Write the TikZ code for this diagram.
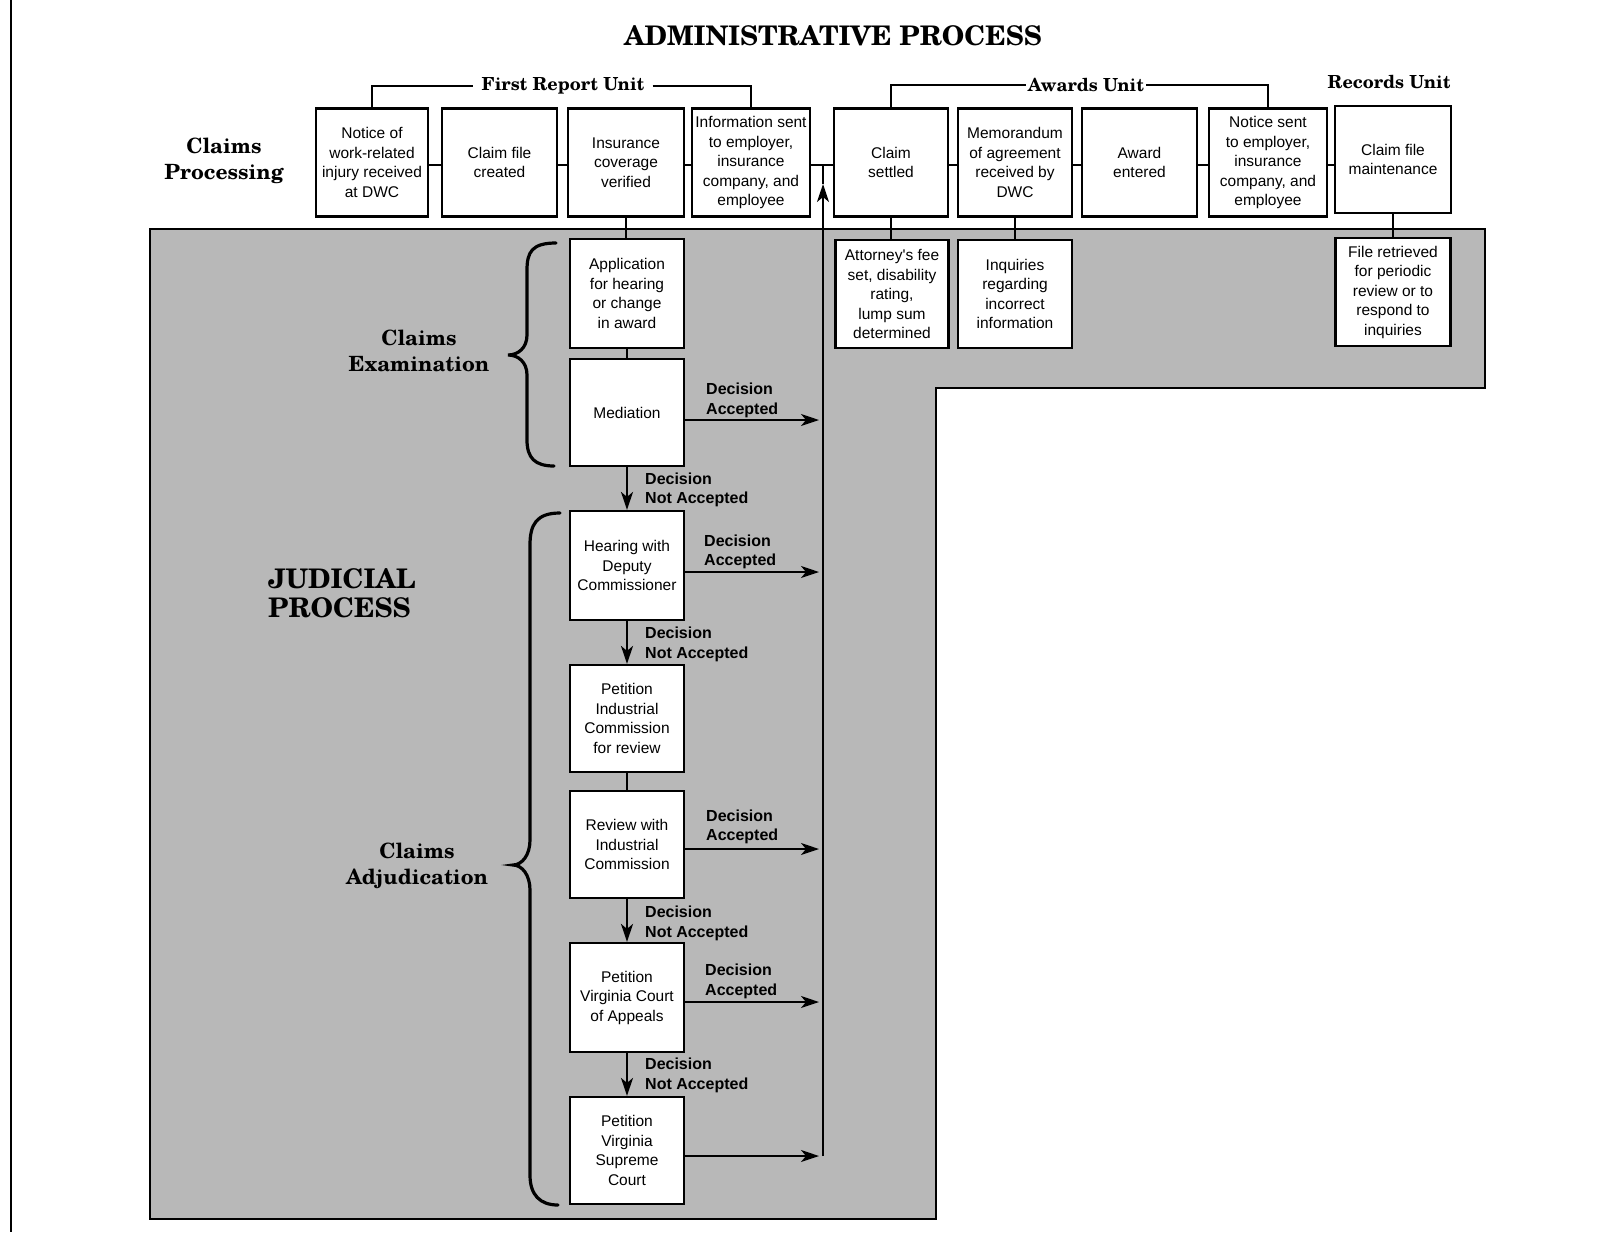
\documentclass[tikz,border=0pt]{standalone}
\usepackage{fontspec}
\newfontfamily\boxfont{Liberation Sans}
\newfontfamily\headfont{TeX Gyre Schola}
\usetikzlibrary{arrows.meta}
\definecolor{shadegray}{gray}{0.72}
\begin{document}
\begin{tikzpicture}[x=1pt,y=-1pt,
  box/.style={draw, line width=2.2pt, fill=white, minimum width=115pt, minimum height=108pt, inner sep=1pt, align=center, font=\boxfont\fontsize{15.5}{19.5}\selectfont},
  conn/.style={line width=2pt},
  arr/.style={line width=2pt, -{Stealth[length=18pt,width=12pt,inset=5pt]}},
  dlabel/.style={anchor=west, align=left, inner sep=0pt, font=\boxfont\bfseries\fontsize{16}{19.5}\selectfont},
  head/.style={font=\headfont\bfseries\fontsize{21}{26}\selectfont, align=center, inner sep=0pt},
  unit/.style={font=\headfont\bfseries\fontsize{18}{22}\selectfont, inner sep=8pt},
  brace/.style={line width=3.2pt, line cap=round}
]
\useasboundingbox (0,0) rectangle (1604,1232);
% left border
\draw[line width=2pt] (11,0) -- (11,1232);
% shaded judicial area
\draw[line width=2pt, fill=shadegray] (150,229) -- (1485,229) -- (1485,388) -- (936,388) -- (936,1219) -- (150,1219) -- cycle;

% headings
\node[font=\headfont\bfseries\fontsize{27}{32}\selectfont] (title) at (833,36) {ADMINISTRATIVE PROCESS};
\node[head] (cproc) at (224,161) {Claims\\Processing};
\node[head] (cexam) at (419,351) {Claims\\Examination};
\node[head] (cadj) at (417,866) {Claims\\Adjudication};
\node[font=\headfont\bfseries\fontsize{27}{29}\selectfont, align=left, inner sep=0pt, anchor=west] (jud) at (268,593) {JUDICIAL\\PROCESS};

% top row
\node[box, minimum width=112pt] (b1) at (372,162.5) {Notice of\\work-related\\injury received\\at DWC};
\node[box] (b2) at (499.5,162.5) {Claim file\\created};
\node[box, minimum width=116pt] (b3) at (626,162.5) {Insurance\\coverage\\verified};
\node[box, minimum width=118pt] (b4) at (751,162.5) {Information sent\\to employer,\\insurance\\company, and\\employee};
\node[box, minimum width=114pt] (b5) at (891,162.5) {Claim\\settled};
\node[box, minimum width=114pt] (b6) at (1015,162.5) {Memorandum\\of agreement\\received by\\DWC};
\node[box] (b7) at (1139.5,162.5) {Award\\entered};
\node[box, minimum width=118pt] (b8) at (1268,162.5) {Notice sent\\to employer,\\insurance\\company, and\\employee};
\node[box, minimum width=116pt, minimum height=107pt] (b9) at (1393,159.5) {Claim file\\maintenance};

% unit labels
\node[unit] (fru) at (563,86) {First Report Unit};
\node[unit, inner sep=2pt] (awu) at (1086,85) {Awards Unit};
\node[unit, inner sep=0pt] (rcu) at (1389,82) {Records Unit};
\draw[conn] (b1.north) |- (fru.west);
\draw[conn] (fru.east) -| (b4.north);
\draw[conn] (b5.north) |- (awu.west);
\draw[conn] (awu.east) -| (b8.north);

% lower right boxes
\node[box, minimum width=113pt] (att) at (892,294) {Attorney's fee\\set, disability\\rating,\\lump sum\\determined};
\node[box, minimum width=114pt] (inq) at (1015,294) {Inquiries\\regarding\\incorrect\\information};
\node[box] (fil) at (1393,292) {File retrieved\\for periodic\\review or to\\respond to\\inquiries};

% left column
\node[box, minimum width=114pt, minimum height=109pt] (app) at (627,293.5) {Application\\for hearing\\or change\\in award};
\node[box, minimum width=114pt, minimum height=107pt] (med) at (627,412.5) {Mediation};
\node[box, minimum width=114pt, minimum height=109pt] (hear) at (627,565.5) {Hearing with\\Deputy\\Commissioner};
\node[box, minimum width=114pt, minimum height=107pt] (pic) at (627,718.5) {Petition\\Industrial\\Commission\\for review};
\node[box, minimum width=114pt, minimum height=107pt] (rev) at (627,844.5) {Review with\\Industrial\\Commission};
\node[box, minimum width=114pt, minimum height=109pt] (coa) at (627,997.5) {Petition\\Virginia Court\\of Appeals};
\node[box, minimum width=114pt, minimum height=107pt] (sup) at (627,1150.5) {Petition\\Virginia\\Supreme\\Court};

% horizontal connectors of top row
\coordinate (hc) at (0,165);
\draw[conn] (b1.east |- hc) -- (b2.west |- hc);
\draw[conn] (b2.east |- hc) -- (b3.west |- hc);
\draw[conn] (b3.east |- hc) -- (b4.west |- hc);
\draw[conn] (b4.east |- hc) -- (b5.west |- hc);
\draw[conn] (b5.east |- hc) -- (b6.west |- hc);
\draw[conn] (b6.east |- hc) -- (b7.west |- hc);
\draw[conn] (b7.east |- hc) -- (b8.west |- hc);
\draw[conn] (b8.east |- hc) -- (b9.west |- hc);

% vertical connectors
\draw[conn] (b3.south) -- (b3.south |- app.north);
\draw[conn] (app.south) -- (med.north);
\draw[conn] (pic.south) -- (rev.north);
\draw[conn] (b5.south) -- (b5.south |- att.north);
\draw[conn] (b6.south) -- (b6.south |- inq.north);
\draw[conn] (b9.south) -- (b9.south |- fil.north);

% trunk
\coordinate (tj) at (823,165);
\coordinate (ta) at (823,184);
\coordinate (m1) at (823,420);
\coordinate (m2) at (823,572);
\coordinate (m3) at (823,849);
\coordinate (m4) at (823,1002);
\coordinate (m5) at (823,1156);
\draw[arr] (m5) -- (ta);
\draw[conn] (ta) -- (tj);

% accepted arrows
\draw[arr, shorten >=4pt] (med.east |- m1) -- (m1);
\draw[arr, shorten >=4pt] (hear.east |- m2) -- (m2);
\draw[arr, shorten >=4pt] (rev.east |- m3) -- (m3);
\draw[arr, shorten >=4pt] (coa.east |- m4) -- (m4);
\draw[arr, shorten >=4pt] (sup.east |- m5) -- (m5);
\node[dlabel] (l1) at (706,400.5) {Decision\\Accepted};
\node[dlabel] (l2) at (704,552) {Decision\\Accepted};
\node[dlabel] (l3) at (706,827) {Decision\\Accepted};
\node[dlabel] (l4) at (705,981.5) {Decision\\Accepted};

% not accepted arrows
\draw[arr] (med.south) -- (hear.north);
\draw[arr] (hear.south) -- (pic.north);
\draw[arr] (rev.south) -- (coa.north);
\draw[arr] (coa.south) -- (sup.north);
\node[dlabel] (n1) at (645,490) {Decision\\Not Accepted};
\node[dlabel] (n2) at (645,644.5) {Decision\\Not Accepted};
\node[dlabel] (n3) at (645,923.5) {Decision\\Not Accepted};
\node[dlabel] (n4) at (645,1075.5) {Decision\\Not Accepted};

% braces
\draw[brace] (556,243) .. controls (532,243) and (527,252) .. (527,270) -- (527,335) .. controls (527,348) and (518,355) .. (508,355) .. controls (518,355) and (527,362) .. (527,375) -- (527,440) .. controls (527,458) and (535,466) .. (554,466);
\draw[brace] (560,513) .. controls (536,513) and (530,525) .. (530,545) -- (530,840) .. controls (530,855) and (522,865) .. (513,865) .. controls (522,865) and (530,875) .. (530,890) -- (530,1175) .. controls (530,1195) and (540,1205) .. (558,1205);
\end{tikzpicture}
\end{document}
